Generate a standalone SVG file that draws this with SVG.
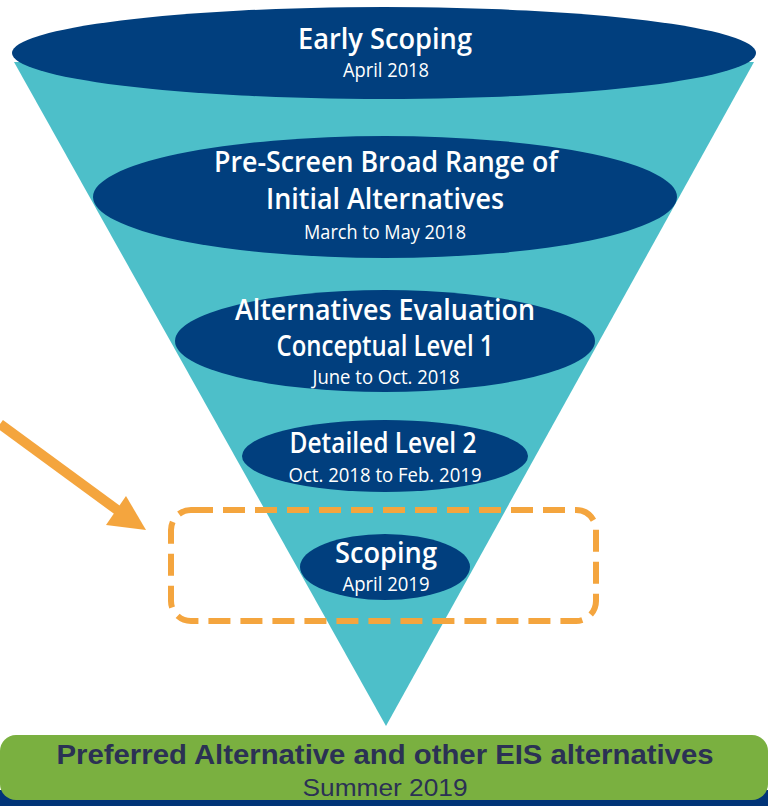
<svg xmlns="http://www.w3.org/2000/svg" width="768" height="806" viewBox="0 0 768 806">
<style>
.stage{fill:#013F7E}
.t{font-family:"Open Sans","Liberation Sans",sans-serif;font-weight:600;fill:#fff;text-anchor:middle;font-size:29px}
.s{font-family:"Open Sans","Liberation Sans",sans-serif;font-weight:400;fill:#fff;text-anchor:middle;font-size:20px}
.g{font-family:"Liberation Sans",Arial,sans-serif;fill:#2B3154;text-anchor:middle}
</style>
<rect width="768" height="806" fill="#fff"/>
<g id="funnel">
<polygon points="14,62 754,62 386,726" fill="#4DBFC9"/>
</g>
<g id="early-scoping">
<ellipse class="stage" cx="384" cy="53" rx="372" ry="46"/>
<text class="t" x="385" y="49" textLength="174" lengthAdjust="spacingAndGlyphs">Early Scoping</text>
<text class="s" x="386" y="77" textLength="86" lengthAdjust="spacingAndGlyphs">April 2018</text>
</g>
<g id="pre-screen">
<ellipse class="stage" cx="385" cy="197" rx="292" ry="61"/>
<text class="t" x="386" y="172" textLength="344" lengthAdjust="spacingAndGlyphs">Pre-Screen Broad Range of</text>
<text class="t" x="385" y="209" textLength="238" lengthAdjust="spacingAndGlyphs">Initial Alternatives</text>
<text class="s" x="385" y="239" textLength="162" lengthAdjust="spacingAndGlyphs">March to May 2018</text>
</g>
<g id="alternatives-evaluation">
<ellipse class="stage" cx="385" cy="341" rx="210" ry="51"/>
<text class="t" x="385" y="320" textLength="300" lengthAdjust="spacingAndGlyphs">Alternatives Evaluation</text>
<text class="t" x="385" y="356" textLength="217" lengthAdjust="spacingAndGlyphs">Conceptual Level 1</text>
<text class="s" x="386" y="384" textLength="147" lengthAdjust="spacingAndGlyphs">June to Oct. 2018</text>
</g>
<g id="detailed-level-2">
<ellipse class="stage" cx="385" cy="456" rx="143" ry="36"/>
<text class="t" x="383" y="453" textLength="187" lengthAdjust="spacingAndGlyphs">Detailed Level 2</text>
<text class="s" x="385" y="482" font-size="19" textLength="193" lengthAdjust="spacingAndGlyphs">Oct. 2018 to Feb. 2019</text>
</g>
<g id="scoping">
<ellipse class="stage" cx="385" cy="567" rx="85" ry="33"/>
<text class="t" x="386" y="563" textLength="102" lengthAdjust="spacingAndGlyphs">Scoping</text>
<text class="s" x="386" y="591" textLength="87" lengthAdjust="spacingAndGlyphs">April 2019</text>
</g>
<g id="highlight">
<rect x="171" y="510" width="425" height="111" rx="20" fill="none" stroke="#F4A53E" stroke-width="6" stroke-dasharray="22 10"/>
</g>
<g id="connectors">
<line x1="0" y1="424" x2="120" y2="512" stroke="#F4A53E" stroke-width="10"/>
<polygon points="146,530 106,525 126,496" fill="#F4A53E"/>
</g>
<g id="preferred">
<rect x="0" y="790" width="768" height="16" fill="#013478"/>
<rect x="0" y="735" width="768" height="65" rx="16" fill="#7AB040"/>
<text class="g" x="385" y="764" font-size="27" font-weight="bold" textLength="657" lengthAdjust="spacingAndGlyphs">Preferred Alternative and other EIS alternatives</text>
<text class="g" x="385" y="796" font-size="24" textLength="165" lengthAdjust="spacingAndGlyphs">Summer 2019</text>
</g>
</svg>
